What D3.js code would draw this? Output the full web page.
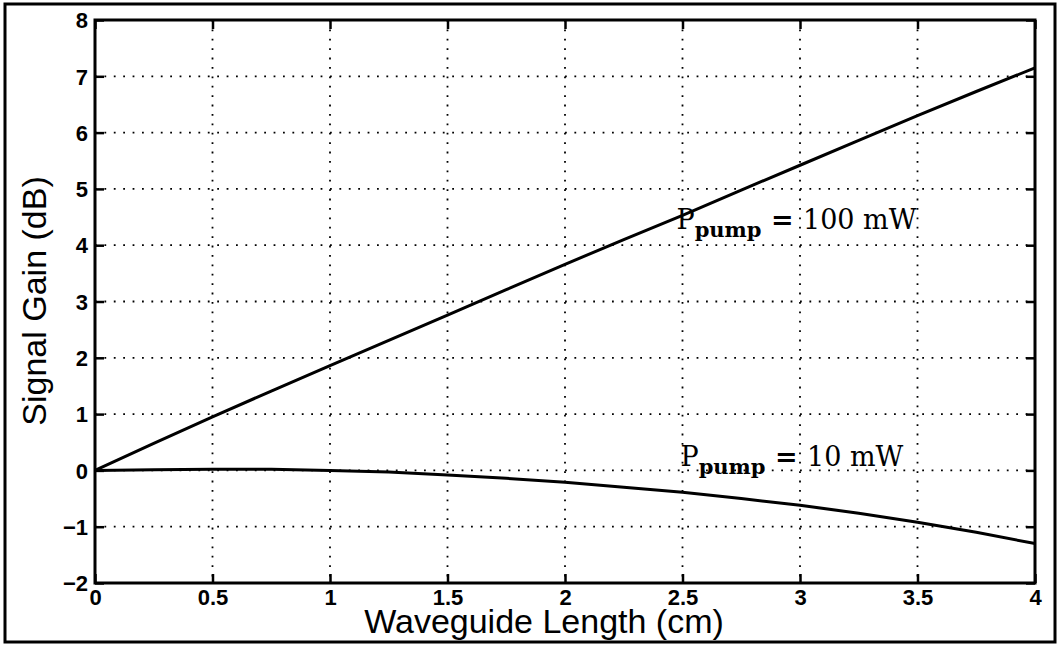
<!DOCTYPE html>
<html lang="en">
<head>
    <meta charset="UTF-8">
    <title>Signal Gain vs Waveguide Length</title>
    <script src="https://d3js.org/d3.v7.min.js"></script>
    <style>
        body { margin: 0; background: #fff; }
        svg { display: block; }
        .tick-label { font-family: "Liberation Sans", Arial, sans-serif; font-weight: bold; font-size: 22px; fill: #000; }
        .axis-title { font-family: "Liberation Sans", Arial, sans-serif; font-size: 34px; fill: #000; }
        .curve-label { font-family: "DejaVu Serif", serif; font-size: 27px; fill: #000; }
    </style>
</head>
<body>
    <div id="container"></div>

    <script>
        // Data
        const lengthCm = [0, 0.25, 0.5, 0.75, 1, 1.25, 1.5, 1.75, 2, 2.25, 2.5, 2.75, 3, 3.25, 3.5, 3.75, 4];
        const gain100mW = [0, 0.48, 0.95, 1.41, 1.86, 2.31, 2.76, 3.21, 3.66, 4.1, 4.53, 4.98, 5.42, 5.86, 6.3, 6.73, 7.15];
        const gain10mW = [0, 0.01, 0.02, 0.02, 0.0, -0.03, -0.08, -0.14, -0.21, -0.3, -0.39, -0.5, -0.62, -0.76, -0.92, -1.1, -1.3];

        const xTicks = [0, 0.5, 1, 1.5, 2, 2.5, 3, 3.5, 4];
        const yTicks = [-2, -1, 0, 1, 2, 3, 4, 5, 6, 7, 8];

        const width = 1061;
        const height = 648;
        const plot = { left: 95, right: 1035, top: 20, bottom: 583 };
        const tickLen = 9;

        const svg = d3.select("#container").append("svg")
            .attr("width", width)
            .attr("height", height);

        // outer frame
        svg.append("rect")
            .attr("x", 5).attr("y", 4)
            .attr("width", 1050).attr("height", 638)
            .attr("fill", "none")
            .attr("stroke", "#000")
            .attr("stroke-width", 3);

        const x = d3.scaleLinear().domain([0, 4]).range([plot.left, plot.right]);
        const y = d3.scaleLinear().domain([-2, 8]).range([plot.bottom, plot.top]);

        const fmt = v => String(v).replace("-", "\u2212");

        // dotted grid
        const grid = svg.append("g")
            .attr("stroke", "#000")
            .attr("stroke-width", 1.8)
            .attr("stroke-dasharray", "1.8 7.6");

        grid.selectAll(".gx").data(xTicks.slice(1, -1)).enter().append("line")
            .attr("x1", d => x(d)).attr("x2", d => x(d))
            .attr("y1", plot.top).attr("y2", plot.bottom);

        grid.selectAll(".gy").data(yTicks.slice(1, -1)).enter().append("line")
            .attr("x1", plot.left).attr("x2", plot.right)
            .attr("y1", d => y(d)).attr("y2", d => y(d));

        // axes via d3 axis generators, ticks pointing inward
        const axisBottom = d3.axisBottom(x).tickValues(xTicks).tickSize(-tickLen).tickFormat(fmt).tickPadding(6);
        const axisTop = d3.axisTop(x).tickValues(xTicks).tickSize(-tickLen).tickFormat("");
        const axisLeft = d3.axisLeft(y).tickValues(yTicks).tickSize(-tickLen).tickFormat(fmt).tickPadding(7);
        const axisRight = d3.axisRight(y).tickValues(yTicks).tickSize(-tickLen).tickFormat("");

        function styleAxis(g) {
            g.select(".domain").remove();
            g.selectAll(".tick line").attr("stroke", "#000").attr("stroke-width", 2.5);
            g.selectAll(".tick text").attr("class", "tick-label").attr("fill", "#000");
        }

        svg.append("g").attr("transform", `translate(0,${plot.bottom})`).call(axisBottom).call(styleAxis)
            .selectAll(".tick text").attr("dy", "0.72em");
        svg.append("g").attr("transform", `translate(0,${plot.top})`).call(axisTop).call(styleAxis);
        svg.append("g").attr("transform", `translate(${plot.left},0)`).call(axisLeft).call(styleAxis)
            .selectAll(".tick text").attr("dy", "0.35em");
        svg.append("g").attr("transform", `translate(${plot.right},0)`).call(axisRight).call(styleAxis);

        // axes box
        svg.append("rect")
            .attr("x", plot.left).attr("y", plot.top)
            .attr("width", plot.right - plot.left).attr("height", plot.bottom - plot.top)
            .attr("fill", "none")
            .attr("stroke", "#000")
            .attr("stroke-width", 3);

        // curves
        const line = d3.line()
            .x((d, i) => x(lengthCm[i]))
            .y(d => y(d));

        [gain100mW, gain10mW].forEach(series => {
            svg.append("path")
                .datum(series)
                .attr("d", line)
                .attr("fill", "none")
                .attr("stroke", "#000")
                .attr("stroke-width", 3)
                .attr("stroke-linejoin", "round");
        });

        // curve labels
        function curveLabel(px, py, power) {
            const t = svg.append("text")
                .attr("class", "curve-label")
                .attr("x", px).attr("y", py);
            t.append("tspan").text("P");
            t.append("tspan").attr("dy", 8).attr("font-size", 21).attr("font-weight", "bold").text("pump");
            t.append("tspan").attr("dy", -8).attr("font-weight", "bold").text(" = ");
            t.append("tspan").text(power);
        }
        curveLabel(x(2.5) - 6, y(4.29), "100 mW");
        curveLabel(x(2.5) - 2, y(0.07), "10 mW");

        // axis titles
        svg.append("text")
            .attr("class", "axis-title")
            .attr("x", 544).attr("y", 633)
            .attr("text-anchor", "middle")
            .text("Waveguide Length (cm)");

        svg.append("text")
            .attr("class", "axis-title")
            .attr("transform", "translate(46,301) rotate(-90)")
            .attr("text-anchor", "middle")
            .attr("font-size", 31)
            .text("Signal Gain (dB)");
    </script>
</body>
</html>
